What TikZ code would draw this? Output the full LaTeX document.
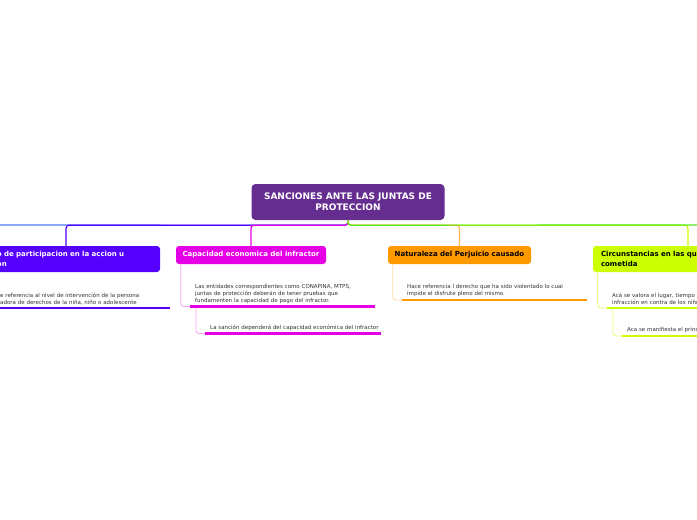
\documentclass[tikz,border=0pt]{standalone}
\usepackage{fontspec}
\setmainfont{DejaVu Sans}
\usepackage{tikz}
\usetikzlibrary{positioning}
\definecolor{rootpurple}{HTML}{662D91}
\definecolor{gradopurple}{HTML}{5500FF}
\definecolor{capmagenta}{HTML}{E600E6}
\definecolor{natorange}{HTML}{FF9900}
\definecolor{circlime}{HTML}{CCFF00}
\definecolor{offblue}{HTML}{4A7CFF}
\definecolor{offgreen}{HTML}{55E622}
\definecolor{detailgray}{HTML}{333333}

\begin{document}
\begin{tikzpicture}[x=1pt, y=-1pt,
Rnode/.style={rectangle, rounded corners=4pt, fill=rootpurple, text=white, font=\fontsize{9}{11}\selectfont\bfseries, align=center, minimum width=193pt, minimum height=36pt},
Bnode/.style={rectangle, rounded corners=3pt, fill=#1, font=\fontsize{7}{9.5}\selectfont\bfseries, inner ysep=3pt},
Dnode/.style={anchor=south west, inner xsep=5pt, inner ysep=3pt, align=left, text width=#1, text=detailgray, font=\fontsize{5.5}{7}\selectfont},
branch/.style={line width=1.2pt, rounded corners=3pt},
twig/.style={line width=0.8pt, rounded corners=3pt},
uline/.style={line width=2.6pt}
]
\path[use as bounding box] (0,0) rectangle (697,520);
\clip (0,0) rectangle (697,520);
\fill[white] (0,0) rectangle (697,520);

%Nodes
\node[Rnode] (root) at (348,202) {SANCIONES ANTE LAS JUNTAS DE\\PROTECCION};
\coordinate (offL) at (-10,225);
\coordinate (offR) at (710,225);

\node[Bnode=gradopurple, text=white, minimum width=188pt, minimum height=26pt, inner xsep=25pt, text width=138pt, align=left] (grado) at (66,259) {o de participacion en la accion u\\on};
\node[Bnode=capmagenta, text=white, minimum width=150pt, minimum height=18pt] (cap) at (251,255) {Capacidad economica del infractor};
\node[Bnode=natorange, text=black, minimum width=143pt, minimum height=18pt] (nat) at (459.5,255) {Naturaleza del Perjuicio causado};
\node[Bnode=circlime, text=black, minimum width=190pt, minimum height=26pt, inner xsep=8pt, text width=174pt, align=left] (circ) at (688,259) {Circunstancias en las que\\cometida};

\node[Dnode=165pt] (grado1) at (-5,308) {e referencia al nivel de intervención de la persona\\adora de derechos de la niña, niño o adolescente};
\node[Dnode=175pt] (cap1) at (190,306.5) {Las entidades correspondientes como CONAPINA, MTPS,\\juntas de protección deberán de tener pruebas que\\fundamenten la capacidad de pago del infractor.};
\node[Dnode=180pt] (cap2) at (205,333.5) {La sanción dependerá del capacidad económica del infractor};
\node[Dnode=175pt] (nat1) at (402,300) {Hace referencia l derecho que ha sido violentado lo cual\\impide el disfrute pleno del mismo.};
\node[Dnode=150pt] (circ1) at (607,308) {Acá se valora el lugar, tiempo y\\infracción en contra de los niños};
\node[Dnode=150pt] (circ2) at (622,336) {Aca se manifiesta el principio};

%Lines
\draw[branch, offblue] (root.south) -- ++(0,5) -- (offL);
\draw[branch, gradopurple] (root.south) -- ++(0,5) -| (grado.north);
\draw[branch, capmagenta] (root.south) -- ++(0,5) -| (cap.north);
\draw[branch, circlime] (root.south) -- ++(0,5) -| (circ.north);
\draw[branch, natorange!70] (root.south) -- ++(0,5) -| (nat.north);
\draw[branch, offgreen] (root.south) -- ++(0,5) -- (offR);

\draw[twig, capmagenta!35] ([xshift=5pt]cap.south west) |- (cap1.south west);
\draw[twig, capmagenta!35] ([xshift=6pt]cap1.south west) |- (cap2.south west);
\draw[twig, natorange!35] ([xshift=5pt]nat.south west) |- (nat1.south west);
\draw[twig, circlime!60] ([xshift=5pt]circ.south west) |- (circ1.south west);
\draw[twig, circlime!60] ([xshift=6pt]circ1.south west) |- (circ2.south west);

\draw[uline, gradopurple] (grado1.south west) -- ++(175,0);
\draw[uline, capmagenta] (cap1.south west) -- (cap1.south east);
\draw[uline, capmagenta] (cap2.south west) -- ++(176,0);
\draw[uline, natorange] (nat1.south west) -- (nat1.south east);
\draw[uline, circlime] (circ1.south west) -- (circ1.south east);
\draw[uline, circlime] (circ2.south west) -- (circ2.south east);
\end{tikzpicture}
\end{document}
